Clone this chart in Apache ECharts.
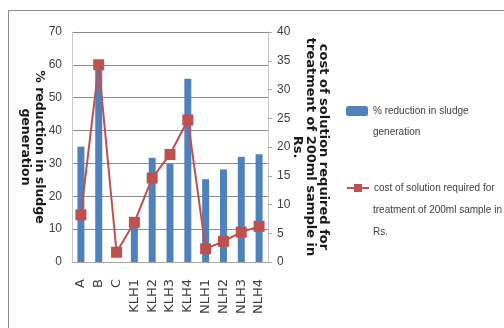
<!DOCTYPE html>
<html>
<head>
<meta charset="utf-8">
<script src="https://cdn.jsdelivr.net/npm/echarts@6/dist/echarts.min.js"></script>
<style>
  html, body { margin: 0; padding: 0; background: #fff; }
  #chart { width: 504px; height: 328px; }
</style>
</head>
<body>
<div id="chart"></div>
<script>
const categories = ['A', 'B', 'C', 'KLH1', 'KLH2', 'KLH3', 'KLH4', 'NLH1', 'NLH2', 'NLH3', 'NLH4'];
const sludgeReduction = [35.1, 59, 0, 12, 31.7, 30.0, 55.8, 25.2, 28.2, 32.0, 32.8];
const solutionCost = [8.2, 34.3, 1.7, 6.9, 14.6, 18.7, 24.7, 2.3, 3.6, 5.2, 6.2];
const barName = '% reduction in sludge\ngeneration';
const lineName = 'cost of solution required for\ntreatment of 200ml sample in\nRs.';

const sans = '"Liberation Sans", Arial, sans-serif';
const bold = '"DejaVu Sans", sans-serif';
const myChart = echarts.init(document.getElementById('chart'));

// legend shows the first line next to its icon, the rest goes underneath
const legendStyle = { fontSize: 10, color: '#404040', fontFamily: sans, lineHeight: 14 };
const extraLines = [];
[[barName, 110], [lineName, 188]].forEach(([txt, y0]) => {
  txt.split('\n').slice(1).forEach((ln, i) => {
    extraLines.push({
      type: 'text', left: 373, top: y0 + 22 * (i + 1) - 5,
      style: { text: ln, fill: '#404040', font: '10px ' + sans }
    });
  });
});

const option = {
  animation: false,
  textStyle: { fontFamily: sans },
  graphic: [
    {
      type: 'rect',
      shape: { x: 8.5, y: 10.5, width: 520, height: 340 },
      style: { fill: 'none', stroke: '#8c8c8c', lineWidth: 1 }
    }
  ].concat(extraLines),
  grid: { left: 72, right: 236, top: 32, bottom: 66 },
  legend: [
    {
      data: [barName],
      left: 346, top: 104, padding: 0, itemGap: 2,
      itemWidth: 22, itemHeight: 10,
      formatter: (n) => n.split('\n')[0],
      textStyle: legendStyle
    },
    {
      data: [lineName],
      left: 346, top: 181, padding: 0, itemGap: 2,
      itemWidth: 22, itemHeight: 10,
      formatter: (n) => n.split('\n')[0],
      textStyle: legendStyle
    }
  ],
  xAxis: {
    type: 'category',
    data: categories,
    axisLine: { lineStyle: { color: '#a6a6a6' } },
    axisTick: { show: false },
    axisLabel: { rotate: 90, fontSize: 13, color: '#404040', margin: 17, interval: 0, fontFamily: '"DejaVu Sans", sans-serif' }
  },
  yAxis: [
    {
      type: 'value', min: 0, max: 70, interval: 10,
      name: '% reduction in sludge\ngeneration',
      nameLocation: 'middle', nameRotate: -90, nameGap: 26, nameMoveOverlap: false,
      nameTextStyle: { fontSize: 12.5, fontWeight: 'bold', color: '#1a1a1a', fontFamily: bold, lineHeight: 14 },
      axisLine: { show: true, lineStyle: { color: '#c8c8c8' } },
      axisTick: { show: false },
      axisLabel: { fontSize: 12, color: '#404040', margin: 10 },
      splitLine: { show: true, lineStyle: { color: '#8c8c8c' } }
    },
    {
      type: 'value', min: 0, max: 40, interval: 5,
      name: 'cost of solution required for\ntreatment of 200ml sample in\nRs.',
      nameLocation: 'middle', nameRotate: -90, nameGap: 23, nameMoveOverlap: false,
      nameTextStyle: { fontSize: 13, fontWeight: 'bold', color: '#1a1a1a', fontFamily: bold, lineHeight: 13 },
      axisLine: { show: true, lineStyle: { color: '#c8c8c8' } },
      axisTick: { show: true, length: 4, lineStyle: { color: '#a6a6a6' } },
      axisLabel: { fontSize: 12, color: '#404040', margin: 9 },
      splitLine: { show: false }
    }
  ],
  series: [
    {
      name: barName,
      type: 'bar',
      data: sludgeReduction,
      barWidth: 7,
      itemStyle: { color: '#4F81BD' }
    },
    {
      name: lineName,
      type: 'line',
      yAxisIndex: 1,
      data: solutionCost,
      symbol: 'rect',
      symbolSize: 11,
      lineStyle: { color: '#C0504D', width: 2 },
      itemStyle: { color: '#C0504D' }
    }
  ]
};

option && myChart.setOption(option);
</script>
</body>
</html>
